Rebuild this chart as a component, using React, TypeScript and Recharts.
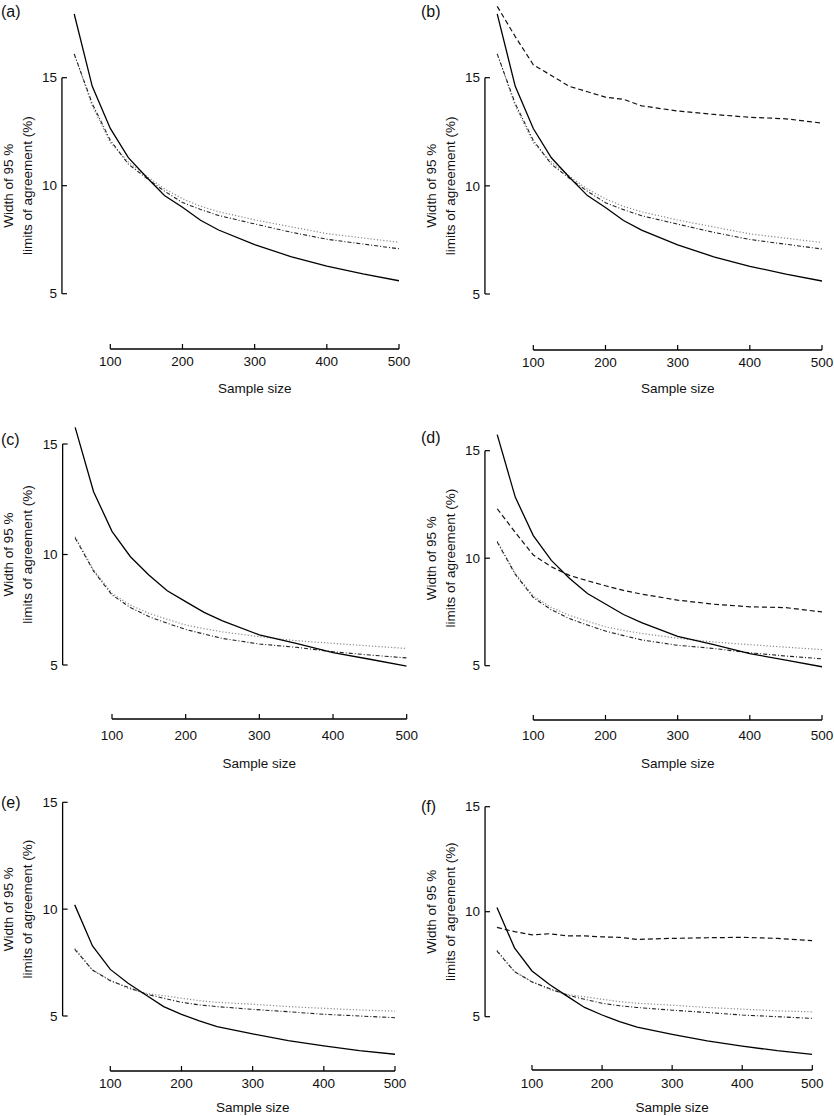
import { LineChart, Line, XAxis, YAxis, ReferenceLine, Label } from "recharts";

const sampleSizes = [50, 75, 100, 125, 150, 175, 200, 225, 250, 300, 350, 400, 450, 500];

// panels (a)/(b)
const solidAB = [17.95, 14.6, 12.65, 11.3, 10.4, 9.55, 9.0, 8.4, 7.95, 7.27, 6.72, 6.28, 5.92, 5.6];
const dottedAB = [16.1, 13.7, 12.0, 11.1, 10.45, 9.85, 9.4, 9.05, 8.8, 8.42, 8.1, 7.78, 7.58, 7.38];
const dashDotAB = [16.1, 13.8, 12.1, 11.0, 10.35, 9.75, 9.22, 8.9, 8.62, 8.23, 7.85, 7.52, 7.3, 7.08];
const dashedB = [18.3, 16.9, 15.6, 15.1, 14.6, 14.35, 14.1, 14.0, 13.7, 13.46, 13.3, 13.17, 13.1, 12.9];

// panels (c)/(d)
const solidCD = [15.75, 12.84, 11.05, 9.9, 9.07, 8.36, 7.87, 7.38, 7.0, 6.36, 5.98, 5.56, 5.26, 4.95];
const dottedCD = [10.8, 9.3, 8.24, 7.71, 7.34, 7.07, 6.81, 6.64, 6.5, 6.28, 6.1, 5.98, 5.86, 5.75];
const dashDotCD = [10.75, 9.25, 8.17, 7.6, 7.19, 6.89, 6.61, 6.4, 6.2, 5.95, 5.8, 5.6, 5.45, 5.32];
const dashedD = [12.3, 11.2, 10.15, 9.6, 9.2, 8.95, 8.72, 8.5, 8.33, 8.05, 7.86, 7.74, 7.7, 7.5];

// panels (e)/(f)
const solidEF = [10.2, 8.28, 7.18, 6.53, 5.98, 5.44, 5.08, 4.77, 4.5, 4.16, 3.85, 3.6, 3.38, 3.21];
const dottedEF = [8.17, 7.15, 6.68, 6.29, 6.06, 5.95, 5.83, 5.72, 5.64, 5.55, 5.44, 5.36, 5.28, 5.23];
const dashDotEF = [8.12, 7.15, 6.65, 6.34, 6.03, 5.83, 5.64, 5.52, 5.44, 5.31, 5.2, 5.08, 5.0, 4.92];
const dashedF = [9.25, 9.05, 8.9, 8.95, 8.85, 8.85, 8.8, 8.78, 8.68, 8.73, 8.76, 8.78, 8.73, 8.62];

const xTicks = [100, 200, 300, 400, 500];
const yTicks = [5, 10, 15];

const FONT = '"Liberation Sans", Arial, Helvetica, sans-serif';
const FS = 13.5;
const X_MIN = 33;

type Series = { solid: number[]; dotted: number[]; dashDot: number[]; dashed?: number[] };

function rowsFor(s: Series) {
  return sampleSizes.map((n, i) => ({
    n,
    solid: s.solid[i],
    dotted: s.dotted[i],
    dashDot: s.dashDot[i],
    dashed: s.dashed ? s.dashed[i] : undefined,
  }));
}

interface PanelCfg {
  letter: string;
  left: number;
  x100: number;
  x500: number;
  y15: number;
  y5: number;
  axisY: number;
  plotTop: number;
  tickOff: number;
  titleOff: number;
  letterX: number;
  letterY: number;
  series: Series;
}

const panels: PanelCfg[] = [
  { letter: "(a)", left: 0, x100: 110.3, x500: 399, y15: 77.7, y5: 293.7, axisY: 349, plotTop: 4, tickOff: 12, titleOff: 39, letterX: 1, letterY: 12,
    series: { solid: solidAB, dotted: dottedAB, dashDot: dashDotAB } },
  { letter: "(b)", left: 423, x100: 533.3, x500: 822, y15: 77.7, y5: 294, axisY: 350, plotTop: 2, tickOff: 12, titleOff: 38, letterX: 421, letterY: 12,
    series: { solid: solidAB, dotted: dottedAB, dashDot: dashDotAB, dashed: dashedB } },
  { letter: "(c)", left: 0, x100: 112, x500: 406.7, y15: 444, y5: 665, axisY: 719, plotTop: 420, tickOff: 16, titleOff: 44, letterX: 1, letterY: 440,
    series: { solid: solidCD, dotted: dottedCD, dashDot: dashDotCD } },
  { letter: "(d)", left: 423, x100: 533.3, x500: 822, y15: 450.7, y5: 665.7, axisY: 720, plotTop: 425, tickOff: 15, titleOff: 43, letterX: 421, letterY: 438,
    series: { solid: solidCD, dotted: dottedCD, dashDot: dashDotCD, dashed: dashedD } },
  { letter: "(e)", left: 0, x100: 110.3, x500: 395, y15: 802.3, y5: 1016, axisY: 1071, plotTop: 795, tickOff: 12, titleOff: 36, letterX: 1, letterY: 803,
    series: { solid: solidEF, dotted: dottedEF, dashDot: dashDotEF } },
  { letter: "(f)", left: 423, x100: 532, x500: 812.3, y15: 806.7, y5: 1016.7, axisY: 1070, plotTop: 798, tickOff: 13, titleOff: 37, letterX: 421, letterY: 807,
    series: { solid: solidEF, dotted: dottedEF, dashDot: dashDotEF, dashed: dashedF } },
];

const RIGHT_PAD = 24;

function Panel({ cfg }: { cfg: PanelCfg }) {
  const pxPerN = (cfg.x500 - cfg.x100) / 400;
  const plotLeft = cfg.x500 - (500 - X_MIN) * pxPerN;
  const ppu = (cfg.y5 - cfg.y15) / 10;
  const yMin = 5 - (cfg.axisY - cfg.y5) / ppu;
  const yMax = 15 + (cfg.y15 - cfg.plotTop) / ppu;
  const chartTop = cfg.plotTop - 2;
  const yAxisWidth = plotLeft - cfg.left;
  const xAxisHeight = cfg.titleOff + 14;
  const width = cfg.x500 + RIGHT_PAD - cfg.left;
  const height = 2 + (cfg.axisY - cfg.plotTop) + xAxisHeight;
  const data = rowsFor(cfg.series);

  const XTick = (p: any) => (
    <g>
      <line x1={p.x} y1={p.y} x2={p.x} y2={p.y - 5} stroke="#000" strokeWidth={1.2} />
      <text x={p.x} y={p.y + cfg.tickOff} dy="0.35em" textAnchor="middle" fontFamily={FONT} fontSize={FS} fill="#111">
        {p.payload.value}
      </text>
    </g>
  );
  const YTick = (p: any) => (
    <g>
      <line x1={p.x} y1={p.y} x2={p.x + 5} y2={p.y} stroke="#000" strokeWidth={1.2} />
      <text x={p.x - 5} y={p.y} dy="0.35em" textAnchor="end" fontFamily={FONT} fontSize={FS} fill="#111">
        {p.payload.value}
      </text>
    </g>
  );

  const yLabel = () => {
    const cy = (cfg.y5 + cfg.y15) / 2 - chartTop;
    const x1 = plotLeft - 54 - cfg.left;
    const x2 = plotLeft - 35 - cfg.left;
    return (
      <g fontFamily={FONT} fontSize={FS} fill="#111">
        <text x={x1} y={cy} dy="0.35em" textAnchor="middle" transform={`rotate(-90 ${x1} ${cy})`}>Width of 95 %</text>
        <text x={x2} y={cy} dy="0.35em" textAnchor="middle" transform={`rotate(-90 ${x2} ${cy})`}>limits of agreement (%)</text>
      </g>
    );
  };
  const xLabel = () => (
    <text
      x={(cfg.x100 + cfg.x500) / 2 - cfg.left}
      y={cfg.axisY + cfg.titleOff - chartTop}
      dy="0.35em"
      textAnchor="middle"
      fontFamily={FONT}
      fontSize={FS}
      fill="#111"
    >
      Sample size
    </text>
  );

  return (
    <>
      <div style={{ position: "absolute", left: cfg.left, top: chartTop }}>
        <LineChart width={width} height={height} data={data} margin={{ top: 2, right: RIGHT_PAD, bottom: 0, left: 0 }}>
          <XAxis
            dataKey="n"
            type="number"
            domain={[X_MIN, 500]}
            allowDataOverflow
            ticks={xTicks}
            height={xAxisHeight}
            axisLine={false}
            tickLine={false}
            tickSize={0}
            tickMargin={0}
            tick={XTick}
            interval={0}
          >
            <Label content={xLabel} />
          </XAxis>
          <YAxis
            type="number"
            domain={[yMin, yMax]}
            allowDataOverflow
            ticks={yTicks}
            width={yAxisWidth}
            axisLine={false}
            tickLine={false}
            tickSize={0}
            tickMargin={0}
            tick={YTick}
            interval={0}
          >
            <Label content={yLabel} />
          </YAxis>
          <ReferenceLine segment={[{ x: 100, y: yMin }, { x: 500, y: yMin }]} stroke="#000" strokeWidth={1.3} ifOverflow="visible" />
          <ReferenceLine segment={[{ x: X_MIN, y: 5 }, { x: X_MIN, y: 15 }]} stroke="#000" strokeWidth={1.3} ifOverflow="visible" />
          <Line type="linear" dataKey="dotted" stroke="#8a8a8a" strokeWidth={1.2} strokeDasharray="1.2 2" dot={false} activeDot={false} isAnimationActive={false} />
          <Line type="linear" dataKey="dashDot" stroke="#222" strokeWidth={1.1} strokeDasharray="4 2 1 2" dot={false} activeDot={false} isAnimationActive={false} />
          {cfg.series.dashed && (
            <Line type="linear" dataKey="dashed" stroke="#111" strokeWidth={1.2} strokeDasharray="5 3" dot={false} activeDot={false} isAnimationActive={false} />
          )}
          <Line type="linear" dataKey="solid" stroke="#000" strokeWidth={1.3} dot={false} activeDot={false} isAnimationActive={false} />
        </LineChart>
      </div>
      <div
        style={{
          position: "absolute",
          left: cfg.letterX,
          top: cfg.letterY - 9,
          fontFamily: FONT,
          fontSize: 16,
          lineHeight: "18px",
          color: "#111",
        }}
      >
        {cfg.letter}
      </div>
    </>
  );
}

export default function App() {
  return (
    <div style={{ position: "absolute", left: 0, top: 0, width: 834, height: 1116, background: "#fff", overflow: "hidden" }}>
      {panels.map((p) => (
        <Panel key={p.letter} cfg={p} />
      ))}
    </div>
  );
}
